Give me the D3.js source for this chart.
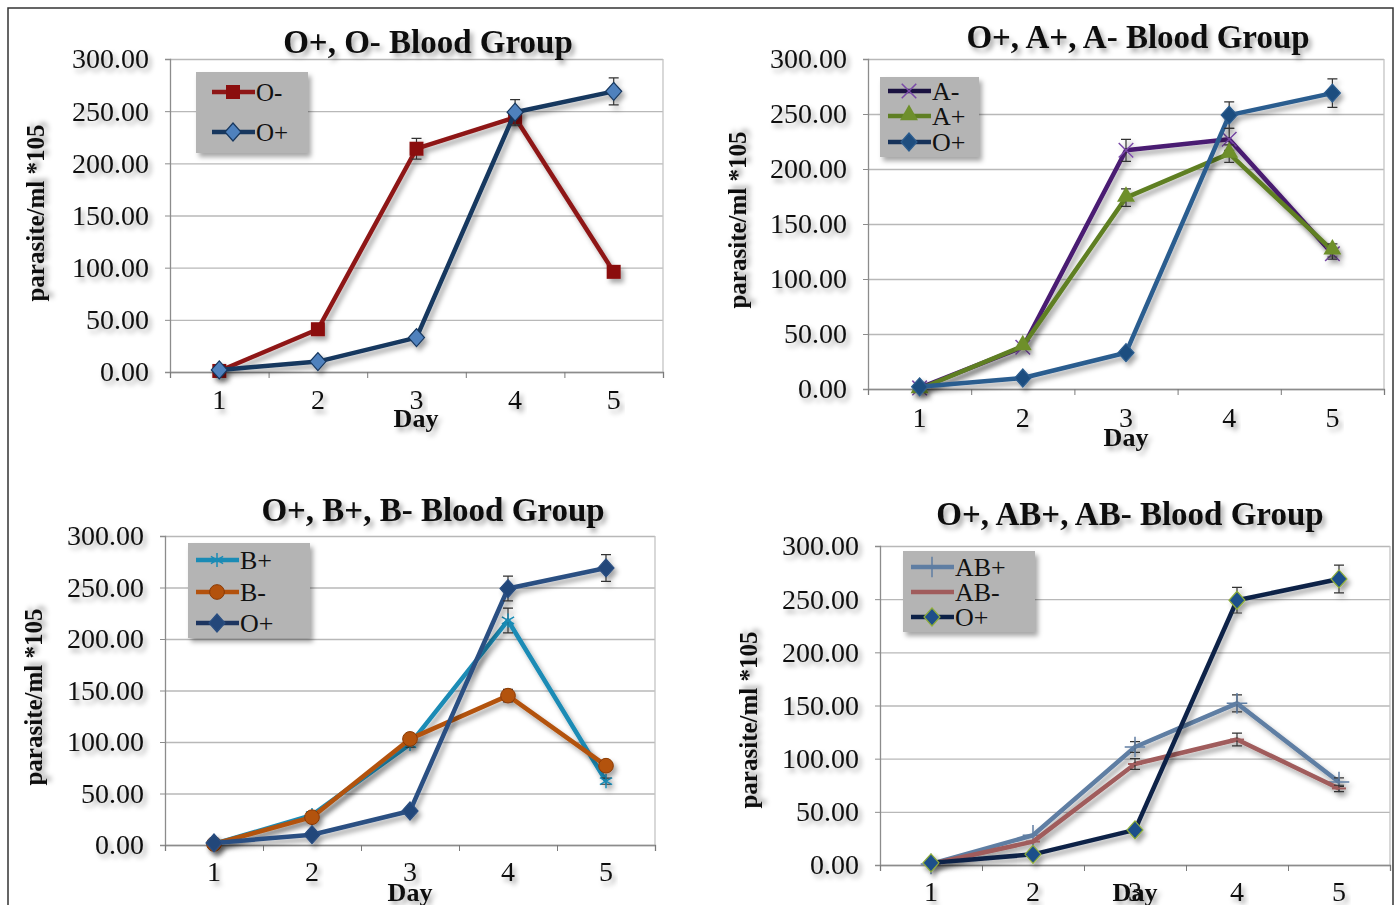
<!DOCTYPE html>
<html>
<head>
<meta charset="utf-8">
<script src="https://cdn.jsdelivr.net/npm/d3@7"></script>
<style>
  html, body { margin: 0; padding: 0; background: #fff; }
  svg { display: block; }
  text { font-family: "Liberation Serif", "Times New Roman", serif; fill: #111; }
</style>
</head>
<body>
<svg id="chart" width="1398" height="905"></svg>
<script>
// values
var days = [1, 2, 3, 4, 5];
var yTicks = [0, 50, 100, 150, 200, 250, 300];

var oPlus = [2, 10, 33, 249, 269];
var oPlusErr = [0, 1, 2, 12, 13];
var oMinus = [1, 41, 214, 244, 96];
var oMinusErr = [0, 2, 10, 8, 2];
var aMinus = [1, 38, 217, 227, 123];
var aMinusErr = [0, 2, 10, 10, 5];
var aPlus = [0, 39, 174, 214, 126];
var aPlusErr = [0, 2, 8, 8, 6];
var bPlus = [1, 29, 98, 218, 62];
var bPlusErr = [0, 2, 3, 12, 3];
var bMinus = [1, 27, 103, 145, 77];
var bMinusErr = [0, 2, 3, 6, 2];
var abPlus = [1, 28, 111, 152, 78];
var abPlusErr = [0, 2, 5, 8, 4];
var abMinus = [1, 22, 95, 118, 72];
var abMinusErr = [0, 2, 5, 6, 3];

var svg = d3.select("#chart");

var defs = svg.append("defs");
var f = defs.append("filter").attr("id", "shadow")
    .attr("x", "-20%").attr("y", "-20%").attr("width", "150%").attr("height", "160%");
f.append("feDropShadow").attr("dx", 3).attr("dy", 4).attr("stdDeviation", 2.5)
    .attr("flood-color", "#000").attr("flood-opacity", 0.35);

// outer frame
svg.append("rect")
    .attr("x", 8).attr("y", 8).attr("width", 1385).attr("height", 910)
    .attr("fill", "none").attr("stroke", "#333").attr("stroke-width", 1.5);

var panels = [
    {
        title: "O+, O- Blood Group", left: 170, right: 663, top: 59, bottom: 372,
        titleX: 428, titleY: 53, yLabelX: 44, yLabelY: 213, tickY: 409, dayX: 416, dayY: 427,
        legend: { x: 196, y: 72, w: 112, h: 81, rows: [92, 132], font: "Liberation Sans" },
        series: [
            { name: "O-", values: oMinus, err: oMinusErr, color: "#8e1616", marker: "square", fill: "#8b0e0e" },
            { name: "O+", values: oPlus, err: oPlusErr, color: "#17375e", marker: "diamond", fill: "#4f81bd" }
        ]
    },
    {
        title: "O+, A+, A- Blood Group", left: 868, right: 1384, top: 59, bottom: 389,
        titleX: 1138, titleY: 48, yLabelX: 746, yLabelY: 220, tickY: 427, dayX: 1126, dayY: 446,
        legend: { x: 880, y: 77, w: 99, h: 80, rows: [91, 116, 142] },
        series: [
            { name: "A-", values: aMinus, err: aMinusErr, color: "#4a1a72", marker: "times", fill: "#7a4aa8", legendLine: "#1a1240" },
            { name: "A+", values: aPlus, err: aPlusErr, color: "#5f7f24", marker: "triangle", fill: "#6e8f2c" },
            { name: "O+", values: oPlus, err: oPlusErr, color: "#2c5d8f", marker: "diamond", fill: "#1f4e7f", legendLine: "#16325a" }
        ]
    },
    {
        title: "O+, B+, B- Blood Group", left: 165, right: 655, top: 536, bottom: 845,
        titleX: 433, titleY: 521, yLabelX: 42, yLabelY: 697, tickY: 881, dayX: 410, dayY: 901,
        legend: { x: 188, y: 543, w: 122, h: 95, rows: [560, 592, 623] },
        series: [
            { name: "B+", values: bPlus, err: bPlusErr, color: "#1a8bb5", marker: "asterisk", fill: "#1a8bb5" },
            { name: "B-", values: bMinus, err: bMinusErr, color: "#b3520d", marker: "circle", fill: "#b3520d" },
            { name: "O+", values: oPlus, err: oPlusErr, color: "#2b4f82", marker: "diamond", fill: "#24477a", legendLine: "#1d3560" }
        ]
    },
    {
        title: "O+, AB+, AB- Blood Group", left: 880, right: 1390, top: 546, bottom: 865,
        titleX: 1130, titleY: 525, yLabelX: 757, yLabelY: 720, tickY: 901, dayX: 1135, dayY: 901,
        legend: { x: 903, y: 551, w: 132, h: 81, rows: [567, 592, 617] },
        series: [
            { name: "AB+", values: abPlus, err: abPlusErr, color: "#5f7ea3", marker: "plus", fill: "#5f7ea3" },
            { name: "AB-", values: abMinus, err: abMinusErr, color: "#a05c5c", marker: "dash", fill: "#a05c5c" },
            { name: "O+", values: oPlus, err: oPlusErr, color: "#0c2147", marker: "diamond", fill: "#1f4f8a", stroke: "#8fae3a" }
        ]
    }
];

function drawMarker(g, s, x, y) {
    var sym;
    if (s.marker === "square") {
        g.append("rect").attr("x", x - 7).attr("y", y - 7).attr("width", 14).attr("height", 14)
            .attr("fill", s.fill);
        return;
    }
    if (s.marker === "dash") {
        g.append("line").attr("x1", x - 7).attr("x2", x + 7).attr("y1", y).attr("y2", y)
            .attr("stroke", s.fill).attr("stroke-width", 2);
        return;
    }
    if (s.marker === "diamond") {
        g.append("path").attr("d", "M0,-9L8,0L0,9L-8,0Z")
            .attr("transform", "translate(" + x + "," + y + ")")
            .attr("fill", s.fill).attr("stroke", s.stroke || s.color).attr("stroke-width", 1.2);
    } else if (s.marker === "triangle") {
        sym = d3.symbol().type(d3.symbolTriangle).size(140);
        g.append("path").attr("d", sym()).attr("transform", "translate(" + x + "," + (y - 1) + ")")
            .attr("fill", s.fill);
    } else if (s.marker === "circle") {
        sym = d3.symbol().type(d3.symbolCircle).size(170);
        g.append("path").attr("d", sym()).attr("transform", "translate(" + x + "," + y + ")")
            .attr("fill", s.fill).attr("stroke", "#8a3a05").attr("stroke-width", 1);
    } else {
        var t = { times: d3.symbolTimes, asterisk: d3.symbolAsterisk, plus: d3.symbolPlus }[s.marker];
        sym = d3.symbol().type(t).size(140);
        g.append("path").attr("d", sym()).attr("transform", "translate(" + x + "," + y + ")")
            .attr("fill", "none").attr("stroke", s.fill).attr("stroke-width", 1.5);
    }
}

function drawPanel(p) {
    var g = svg.append("g");
    var x = d3.scaleBand().domain(days).range([p.left, p.right]);
    var xEdge = d3.scaleLinear().domain([0, days.length]).range([p.left, p.right]);
    var y = d3.scaleLinear().domain([0, 300]).range([p.bottom, p.top]);
    var cx = function (d) { return x(d) + x.bandwidth() / 2; };

    // gridlines
    g.append("g")
        .attr("transform", "translate(" + p.left + ",0)")
        .call(d3.axisLeft(y).tickValues(yTicks).tickSize(-(p.right - p.left)).tickFormat(""))
        .call(function (a) {
            a.select(".domain").remove();
            a.selectAll("line").attr("stroke", "#b8b8b8").attr("stroke-width", 1.3);
        });
    // right border of plot area
    g.append("line").attr("x1", p.right).attr("x2", p.right).attr("y1", p.top).attr("y2", p.bottom)
        .attr("stroke", "#c4c4c4").attr("stroke-width", 1.3);

    // y axis
    var ya = g.append("g")
        .attr("transform", "translate(" + p.left + ",0)")
        .call(d3.axisLeft(y).tickValues(yTicks).tickSize(5).tickPadding(16).tickFormat(d3.format(".2f")));
    ya.select(".domain").attr("stroke", "#8c8c8c").attr("stroke-width", 1.3);
    ya.selectAll("line").attr("stroke", "#8c8c8c");
    ya.selectAll("text").attr("font-size", 28).attr("font-family", "Liberation Serif")
        .attr("fill", "#222").attr("filter", "url(#shadow)");

    // x axis: ticks on band edges, labels on centres
    var xa = g.append("g")
        .attr("transform", "translate(0," + p.bottom + ")")
        .call(d3.axisBottom(xEdge).tickValues(d3.range(days.length + 1)).tickSize(6).tickFormat(""));
    xa.select(".domain").attr("stroke", "#8c8c8c").attr("stroke-width", 1.3);
    xa.selectAll("line").attr("stroke", "#7a7a7a");

    g.append("g").selectAll("text").data(days).enter().append("text")
        .attr("x", cx).attr("y", p.tickY)
        .attr("text-anchor", "middle").attr("font-size", 28).attr("fill", "#222")
        .attr("filter", "url(#shadow)")
        .text(function (d) { return d; });

    // titles
    g.append("text").attr("x", p.titleX).attr("y", p.titleY)
        .attr("text-anchor", "middle").attr("font-size", 33).attr("font-weight", "bold")
        .attr("filter", "url(#shadow)").text(p.title);
    g.append("text").attr("x", p.dayX).attr("y", p.dayY)
        .attr("text-anchor", "middle").attr("font-size", 26).attr("font-weight", "bold")
        .attr("filter", "url(#shadow)").text("Day");
    g.append("text")
        .attr("transform", "translate(" + p.yLabelX + "," + p.yLabelY + ") rotate(-90)")
        .attr("text-anchor", "middle").attr("font-size", 25).attr("font-weight", "bold")
        .attr("filter", "url(#shadow)").text("parasite/ml  *105");

    // series
    var line = d3.line().x(function (d) { return cx(d.day); }).y(function (d) { return y(d.v); });
    p.series.forEach(function (s) {
        var pts = days.map(function (d, i) { return { day: d, v: s.values[i], e: s.err[i] }; });
        var sg = g.append("g").attr("filter", "url(#shadow)");
        sg.append("path").datum(pts).attr("d", line)
            .attr("fill", "none").attr("stroke", s.color).attr("stroke-width", 4.5)
            .attr("stroke-linejoin", "round");
        pts.forEach(function (d) {
            if (d.e > 2) {
                var ex = cx(d.day);
                sg.append("path")
                    .attr("d", "M" + ex + "," + y(d.v + d.e) + "V" + y(d.v - d.e) +
                        "M" + (ex - 5) + "," + y(d.v + d.e) + "H" + (ex + 5) +
                        "M" + (ex - 5) + "," + y(d.v - d.e) + "H" + (ex + 5))
                    .attr("stroke", "#333").attr("stroke-width", 1.2).attr("fill", "none");
            }
            drawMarker(sg, s, cx(d.day), y(d.v));
        });
    });

    // legend
    var L = p.legend;
    var lg = g.append("g");
    lg.append("rect").attr("x", L.x).attr("y", L.y).attr("width", L.w).attr("height", L.h)
        .attr("fill", "#b4b4b4").attr("filter", "url(#shadow)");
    p.series.forEach(function (s, i) {
        var ry = L.rows[i];
        var x0 = L.x + (L.font ? 16 : 8);
        lg.append("line").attr("x1", x0).attr("x2", x0 + 43).attr("y1", ry).attr("y2", ry)
            .attr("stroke", s.legendLine || s.color).attr("stroke-width", 4.5);
        drawMarker(lg, s, x0 + 21, ry);
        lg.append("text").attr("x", x0 + 44).attr("y", ry + 9)
            .attr("font-size", L.font ? 25 : 26).attr("fill", "#111")
            .attr("font-family", L.font || "Liberation Serif")
            .text(s.name);
    });
}

panels.forEach(drawPanel);
</script>
</body>
</html>
